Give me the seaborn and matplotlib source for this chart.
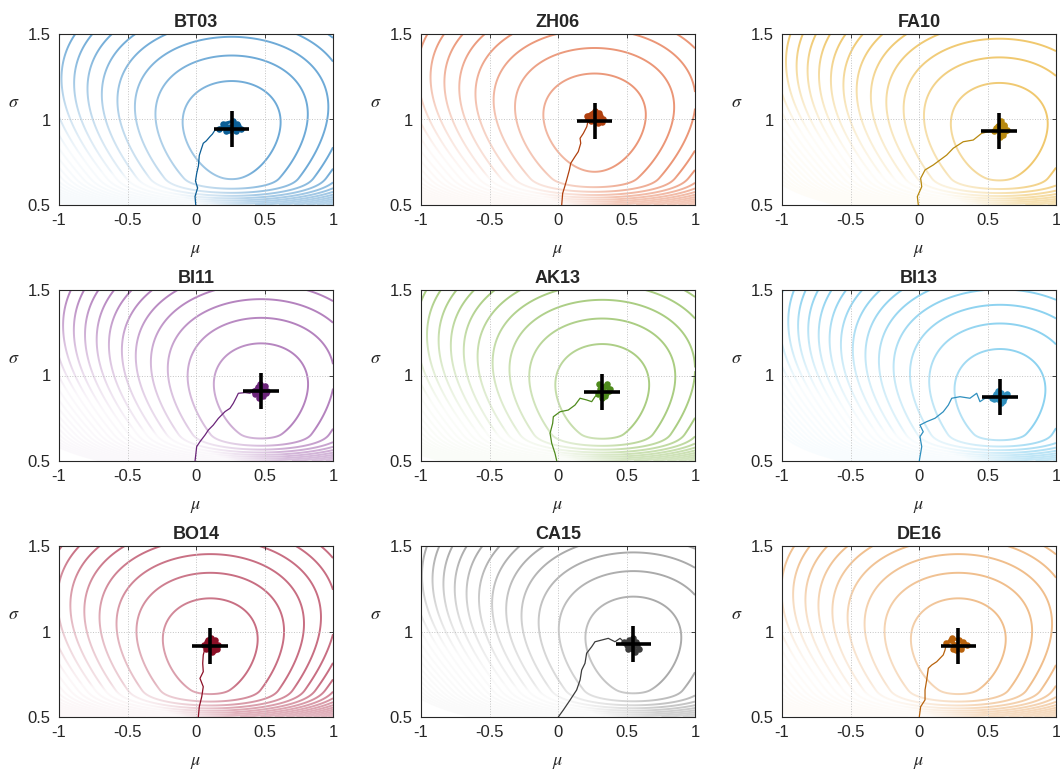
import numpy as np
import seaborn as sns
import matplotlib.pyplot as plt

sns.set_theme(style="white")
plt.rcParams["font.family"] = ["Liberation Sans", "DejaVu Sans"]
plt.rcParams["mathtext.fontset"] = "stix"

# panels, best fit (cross) and its half widths
names = ["BT03", "ZH06", "FA10", "BI11", "AK13", "BI13", "BO14", "CA15", "DE16"]
mu_hat = [0.26, 0.267, 0.586, 0.474, 0.323, 0.591, 0.104, 0.55, 0.287]
sigma_hat = [0.946, 0.99, 0.935, 0.909, 0.905, 0.876, 0.915, 0.925, 0.915]
mu_err = [0.13, 0.13, 0.13, 0.13, 0.13, 0.13, 0.13, 0.13, 0.13]
sigma_err = [0.105, 0.105, 0.105, 0.105, 0.105, 0.105, 0.105, 0.105, 0.105]

contour_colors = ["#6EAAD7", "#EB9677", "#F0C86E", "#B482BE", "#AACD82",
                  "#8CD2F0", "#C86E82", "#AAAAAA", "#F0BE8C"]
trace_colors = ["#0B5E96", "#B0400F", "#B8890F", "#6A2479", "#4E8A1C",
                "#2F8FBE", "#8C0F26", "#3C3C3C", "#B8620C"]

# sampler paths from the start (0, 0.5) up to the fitted region
trace_mu = [
    [-0.002, -0.007, 0.012, -0.004, 0.005, 0.018, 0.024, 0.04, 0.053, 0.075, 0.102, 0.12, 0.139, 0.16],
    [0.027, 0.034, 0.05, 0.063, 0.083, 0.093, 0.124, 0.148, 0.166, 0.161, 0.185, 0.21, 0.221],
    [-0.005, -0.012, 0.02, 0.012, 0.044, 0.104, 0.153, 0.202, 0.25, 0.323, 0.396, 0.457, 0.506],
    [-0.007, 0.005, 0.029, 0.066, 0.09, 0.126, 0.163, 0.212, 0.248, 0.272, 0.297, 0.309, 0.358, 0.394],
    [-0.009, -0.022, -0.046, -0.058, -0.039, -0.034, 0.015, 0.075, 0.124, 0.161, 0.209, 0.246, 0.27],
    [0.002, 0.02, 0.007, 0.031, 0.007, 0.056, 0.117, 0.177, 0.214, 0.239, 0.299, 0.372, 0.421, 0.445, 0.482],
    [0.017, 0.024, 0.042, 0.053, 0.029, 0.053, 0.049, 0.053, 0.066],
    [0.002, 0.039, 0.088, 0.136, 0.161, 0.173, 0.197, 0.209, 0.246, 0.27, 0.319, 0.367, 0.416, 0.453],
    [0.002, 0.012, 0.044, 0.044, 0.056, 0.068, 0.093, 0.129, 0.153, 0.177, 0.19],
]
trace_sigma = [
    [0.5, 0.55, 0.6, 0.64, 0.685, 0.73, 0.79, 0.83, 0.861, 0.875, 0.9, 0.915, 0.939, 0.945],
    [0.5, 0.568, 0.61, 0.646, 0.705, 0.744, 0.783, 0.812, 0.861, 0.89, 0.919, 0.958, 0.997],
    [0.5, 0.549, 0.607, 0.656, 0.705, 0.734, 0.763, 0.792, 0.832, 0.87, 0.88, 0.919, 0.929],
    [0.5, 0.584, 0.613, 0.652, 0.681, 0.71, 0.749, 0.789, 0.808, 0.837, 0.876, 0.896, 0.9, 0.896],
    [0.5, 0.545, 0.604, 0.662, 0.72, 0.759, 0.788, 0.798, 0.827, 0.867, 0.857, 0.847, 0.876],
    [0.5, 0.584, 0.642, 0.671, 0.71, 0.73, 0.75, 0.788, 0.827, 0.867, 0.876, 0.867, 0.896, 0.847, 0.867],
    [0.5, 0.56, 0.619, 0.677, 0.726, 0.765, 0.814, 0.863, 0.902],
    [0.5, 0.541, 0.599, 0.658, 0.716, 0.775, 0.814, 0.873, 0.911, 0.94, 0.95, 0.96, 0.94, 0.96],
    [0.5, 0.56, 0.6, 0.658, 0.716, 0.785, 0.804, 0.823, 0.843, 0.863, 0.892],
]

# dense cloud of samples around the fit
blob_mu = [
    [0.17, 0.21, 0.24, 0.2, 0.27, 0.31, 0.33, 0.29, 0.25, 0.3, 0.22, 0.27],
    [0.22, 0.25, 0.21, 0.27, 0.3, 0.33, 0.29, 0.26, 0.31, 0.24, 0.28, 0.32],
    [0.55, 0.58, 0.6, 0.57, 0.62, 0.64, 0.61, 0.59, 0.63, 0.56, 0.6, 0.62],
    [0.42, 0.45, 0.43, 0.47, 0.5, 0.52, 0.49, 0.46, 0.44, 0.48, 0.51, 0.47],
    [0.29, 0.31, 0.3, 0.33, 0.36, 0.38, 0.35, 0.32, 0.34, 0.37, 0.31, 0.35],
    [0.53, 0.56, 0.58, 0.55, 0.6, 0.63, 0.61, 0.58, 0.62, 0.57, 0.64, 0.6],
    [0.06, 0.09, 0.07, 0.11, 0.14, 0.16, 0.13, 0.1, 0.12, 0.15, 0.08, 0.13],
    [0.48, 0.5, 0.52, 0.55, 0.53, 0.57, 0.59, 0.56, 0.54, 0.51, 0.58, 0.55],
    [0.2, 0.23, 0.26, 0.24, 0.29, 0.32, 0.35, 0.31, 0.27, 0.3, 0.25, 0.33],
]
blob_sigma = [
    [0.945, 0.965, 0.94, 0.975, 0.99, 0.96, 0.945, 0.93, 0.955, 0.975, 0.93, 0.95],
    [1.0, 1.03, 1.02, 1.05, 1.04, 1.0, 0.98, 1.0, 1.02, 0.99, 1.03, 0.985],
    [0.93, 0.96, 0.99, 0.95, 0.97, 0.94, 0.91, 0.9, 0.93, 0.95, 0.92, 0.96],
    [0.91, 0.93, 0.89, 0.95, 0.94, 0.91, 0.88, 0.87, 0.9, 0.92, 0.9, 0.89],
    [0.89, 0.92, 0.95, 0.93, 0.95, 0.92, 0.9, 0.87, 0.88, 0.91, 0.9, 0.94],
    [0.87, 0.89, 0.91, 0.86, 0.9, 0.88, 0.85, 0.86, 0.87, 0.88, 0.89, 0.84],
    [0.92, 0.95, 0.9, 0.96, 0.95, 0.92, 0.89, 0.91, 0.88, 0.9, 0.94, 0.94],
    [0.94, 0.92, 0.95, 0.96, 0.91, 0.94, 0.9, 0.88, 0.93, 0.9, 0.92, 0.9],
    [0.93, 0.95, 0.92, 0.96, 0.95, 0.94, 0.92, 0.9, 0.89, 0.91, 0.9, 0.925],
]

levels = 0.07 + 0.095 * np.arange(24)

grid_mu = np.linspace(-1, 1, 401)
grid_sigma = np.linspace(0.5, 1.5, 301)
M, S = np.meshgrid(grid_mu, grid_sigma)


def cost(m, s):
    # misfit surface around the fitted point
    up = 0.9 * (S - s) ** 2
    down = 0.8 * (S - s) ** 2 + 62.5 * np.clip(0.66 - S, 0, None) ** 2.5
    return (M - m) ** 2 / (2 * s * S) + np.where(S >= s, up, down)


def fade(m):
    left = 1.0 * np.clip(m + 0.2 - M, 0, None) * np.clip(1.5 - S, 0, None)
    low = 2.6 * np.clip(0.7 - S, 0, None)
    return np.clip(left + low, 0, 0.95)


W, H = 1060, 773
fig = plt.figure(figsize=(W / 100, H / 100), dpi=100)
lefts = [59, 421, 782]
tops = [34, 290, 546]

for i, name in enumerate(names):
    r, c = divmod(i, 3)
    ax = fig.add_axes([lefts[c] / W, 1 - (tops[r] + 171) / H, 274 / W, 171 / H])
    m, s = mu_hat[i], sigma_hat[i]

    ax.contour(M, S, cost(m, s), levels=levels, colors=contour_colors[i],
               linewidths=1.4, zorder=1)
    rgba = np.ones(M.shape + (4,))
    rgba[..., 3] = fade(m)
    ax.imshow(rgba, extent=[-1, 1, 0.5, 1.5], origin="lower", aspect="auto",
              interpolation="bilinear", zorder=1.2)

    sns.lineplot(x=trace_mu[i] + blob_mu[i][:1], y=trace_sigma[i] + blob_sigma[i][:1],
                 sort=False, estimator=None, color=trace_colors[i], lw=0.9, ax=ax, zorder=3)
    sns.lineplot(x=blob_mu[i], y=blob_sigma[i], sort=False, estimator=None,
                 color=trace_colors[i], lw=2.2, ax=ax, zorder=3)
    sns.scatterplot(x=blob_mu[i], y=blob_sigma[i], color=trace_colors[i], s=22,
                    linewidth=0, ax=ax, zorder=3)
    ax.errorbar(m, s, xerr=mu_err[i], yerr=sigma_err[i], fmt="none",
                ecolor="black", elinewidth=2.6, capsize=0, zorder=4)

    ax.set_xlim(-1, 1)
    ax.set_ylim(0.5, 1.5)
    ax.set_xticks([-1, -0.5, 0, 0.5, 1])
    ax.set_xticklabels(["-1", "-0.5", "0", "0.5", "1"])
    ax.set_yticks([0.5, 1, 1.5])
    ax.set_yticklabels(["0.5", "1", "1.5"])
    ax.set_axisbelow("line")
    ax.grid(True, ls=":", lw=0.7, color="#c4c4c4")
    ax.tick_params(direction="in", length=3, width=0.6, labelsize=12,
                   labelcolor="#262626", color="#262626", top=True, right=True, pad=6)
    for sp in ax.spines.values():
        sp.set_color("#262626")
        sp.set_linewidth(0.8)
    ax.set_title(name, fontsize=13, fontweight="bold", pad=5)
    ax.set_xlabel(r"$\mu$", fontsize=13, color="#262626")
    ax.set_ylabel(r"$\sigma$", fontsize=13, color="#262626", rotation=0, va="center")
    ax.xaxis.set_label_coords(0.5, -0.215)
    ax.yaxis.set_label_coords(-0.165, 0.6)

fig.savefig("out.png", dpi=100, facecolor="white")
